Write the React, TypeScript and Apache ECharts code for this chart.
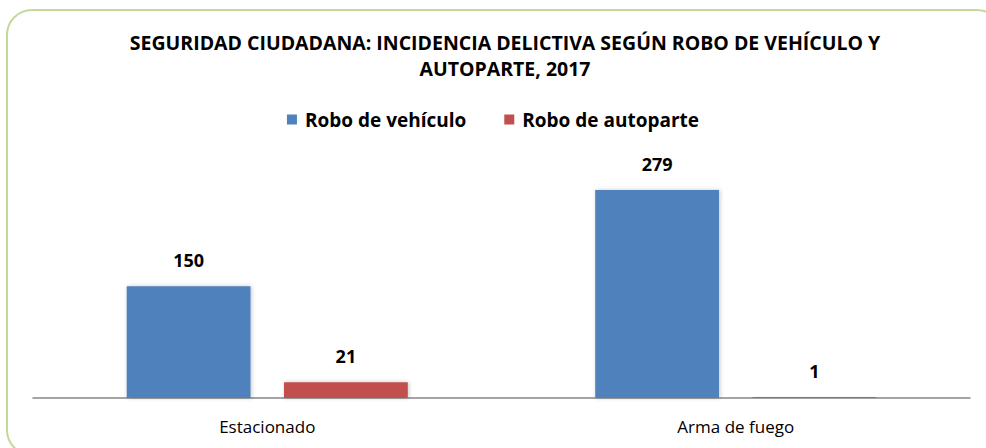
import React, { useEffect, useRef } from "react";
import * as echarts from "echarts";

const categories = ["Estacionado", "Arma de fuego"];
const roboVehiculo = [150, 279];
const roboAutoparte = [21, 1];
const seriesNames = ["Robo de vehículo", "Robo de autoparte"];
const titleText = "SEGURIDAD CIUDADANA: INCIDENCIA DELICTIVA SEGÚN ROBO DE VEHÍCULO Y\nAUTOPARTE, 2017";

export default function App() {
  const ref = useRef<HTMLDivElement>(null);
  useEffect(() => {
    if (!ref.current) return;
    const chart = echarts.init(ref.current, null, { renderer: "svg" });
    const font = "'Open Sans', Lato, sans-serif";
    const label = {
      show: true,
      position: "top",
      distance: 17,
      fontFamily: font,
      fontWeight: "bold",
      fontSize: 18,
      color: "#000",
    };
    const shadow = {
      shadowBlur: 4,
      shadowColor: "rgba(0,0,0,0.22)",
      shadowOffsetX: 1,
      shadowOffsetY: 0,
    };
    chart.setOption({
      animation: false,
      backgroundColor: "#fff",
      graphic: [
        {
          type: "rect",
          shape: { x: 7, y: 10, width: 995, height: 445, r: 25 },
          style: { fill: "none", stroke: "#c4d89c", lineWidth: 2 },
          silent: true,
        },
      ],
      title: {
        text: titleText,
        left: 500,
        textAlign: "center",
        top: 24,
        textStyle: {
          fontFamily: font,
          fontWeight: "bold",
          fontSize: 19.5,
          lineHeight: 26,
          color: "#000",
        },
      },
      legend: {
        top: 105,
        left: "center",
        itemWidth: 10,
        itemHeight: 10,
        itemGap: 38,
        icon: "rect",
        textStyle: {
          fontFamily: font,
          fontWeight: "bold",
          fontSize: 19,
          color: "#000",
          padding: [0, 0, 0, 3],
        },
        data: seriesNames,
      },
      grid: { left: 33, right: 16, top: 174.3, bottom: 50, containLabel: false },
      xAxis: {
        type: "category",
        data: categories,
        axisLine: { show: true, lineStyle: { color: "#868686", width: 1.5 } },
        axisTick: { show: false },
        axisLabel: {
          fontFamily: font,
          fontSize: 17,
          color: "#000",
          margin: 20,
        },
      },
      yAxis: {
        type: "value",
        min: 0,
        max: 300,
        show: false,
        splitLine: { show: false },
      },
      series: [
        {
          name: seriesNames[0],
          type: "bar",
          data: roboVehiculo,
          barCategoryGap: "40%",
          barGap: "27%",
          itemStyle: { color: "#4f81bd", ...shadow },
          label,
        },
        {
          name: seriesNames[1],
          type: "bar",
          data: roboAutoparte,
          itemStyle: { color: "#c0504d", ...shadow },
          label,
        },
      ],
    });
    return () => chart.dispose();
  }, []);
  return (
    <div
      ref={ref}
      style={{ position: "fixed", left: 0, top: 0, width: 986, height: 448 }}
    />
  );
}
